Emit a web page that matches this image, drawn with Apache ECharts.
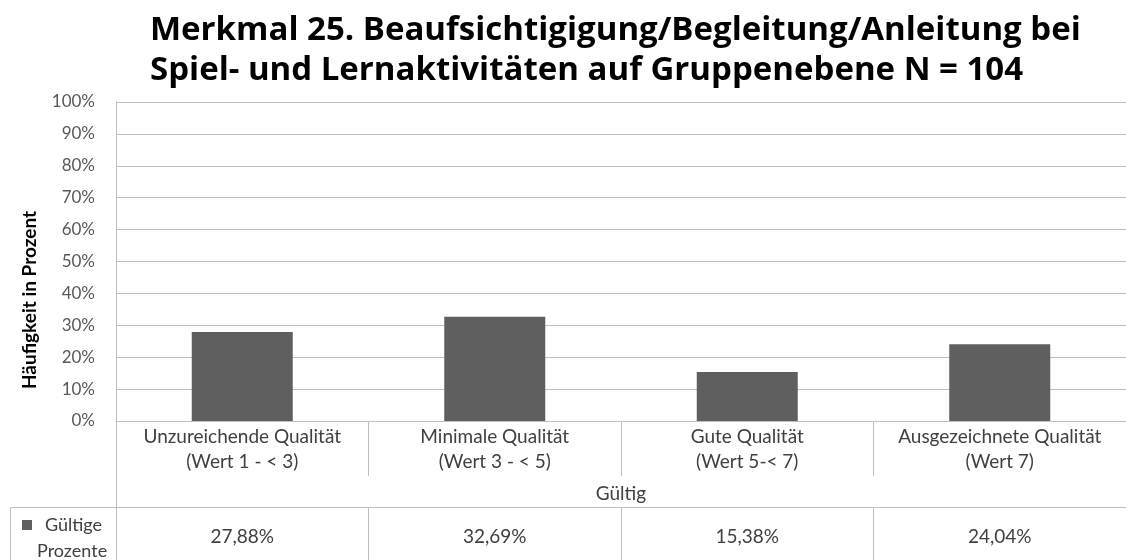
<!DOCTYPE html>
<html><head><meta charset="utf-8">
<script src="https://cdn.jsdelivr.net/npm/echarts@6/dist/echarts.min.js"></script>
<style>html,body{margin:0;padding:0;background:#fff}#c{width:1126px;height:560px}</style>
</head><body><div id="c"></div>
<script>
const titleLines = ['Merkmal 25. Beaufsichtigigung/Begleitung/Anleitung bei', 'Spiel- und Lernaktivitäten auf Gruppenebene N = 104'];
const categories = ['Unzureichende Qualität\n(Wert 1 - < 3)', 'Minimale Qualität\n(Wert 3 - < 5)', 'Gute Qualität\n(Wert 5-< 7)', 'Ausgezeichnete Qualität\n(Wert 7)'];
const values = [27.88, 32.69, 15.38, 24.04];
const valueLabels = ['27,88%', '32,69%', '15,38%', '24,04%'];
const seriesName = 'Gültige Prozente';
const groupName = 'Gültig';
const yAxisName = 'Häufigkeit in Prozent';
const yTicks = {min: 0, max: 100, interval: 10};

const F = 'Lato, "Noto Sans", sans-serif';
const LINE = '#bfbfbf';
const TXT = '#404040';
const L = 116, R = -1;

const chart = echarts.init(document.getElementById('c'));
chart.setOption({
  animation: false,
  textStyle: {fontFamily: F},
  title: {
    text: titleLines.join('\n'), left: 145, top: 6,
    textStyle: {fontFamily: '"Open Sans", Lato, sans-serif', fontWeight: 'bold', fontSize: 33, lineHeight: 40, color: '#000'}
  },
  legend: {
    left: 17, top: 511, itemWidth: 10, itemHeight: 36, itemGap: 0,
    icon: 'path://M0,0L10,0L10,10L0,10Z M0,36L0.01,36L0.01,36.01Z',
    data: [seriesName],
    formatter: () => '{a|Gültige}\n{b|Prozente}',
    textStyle: {fontFamily: F, fontSize: 18, color: TXT,
      rich: {a: {fontSize: 18, lineHeight: 26, color: TXT, padding: [0, 0, 0, 8]}, b: {fontSize: 18, lineHeight: 26, color: TXT}}}
  },
  grid: [
    {left: L, right: R, top: 102, height: 319},
    {left: L, right: R, top: 421, height: 55},
    {left: L, right: R, top: 507, height: 70},
    {left: L, right: R, top: 421, height: 160}
  ],
  xAxis: [
    {gridIndex: 0, type: 'category', data: categories,
      axisLine: {show: true, lineStyle: {color: LINE}}, axisTick: {show: false},
      axisLabel: {margin: 3, fontFamily: F, fontSize: 19, lineHeight: 25, color: TXT, interval: 0}},
    {gridIndex: 1, type: 'category', data: categories,
      axisLine: {show: false}, axisTick: {show: false}, axisLabel: {show: false},
      splitLine: {show: true, lineStyle: {color: LINE}},
      name: groupName, nameLocation: 'middle', nameGap: 8,
      nameTextStyle: {fontFamily: F, fontSize: 19, color: TXT}},
    {gridIndex: 2, type: 'category', data: valueLabels, position: 'top',
      axisLine: {show: true, onZero: false, lineStyle: {color: LINE}}, axisTick: {show: false},
      axisLabel: {inside: true, margin: 20, fontFamily: F, fontSize: 19, color: TXT, interval: 0},
      splitLine: {show: true, lineStyle: {color: LINE}}},
    {gridIndex: 3, type: 'category', data: categories, show: false}
  ],
  yAxis: [
    {gridIndex: 0, type: 'value', min: yTicks.min, max: yTicks.max, interval: yTicks.interval,
      axisLine: {show: true, lineStyle: {color: LINE}}, axisTick: {show: false},
      axisLabel: {formatter: '{value}%', margin: 21, fontFamily: F, fontSize: 17, color: '#595959'},
      splitLine: {show: true, lineStyle: {color: LINE}}},
    {gridIndex: 1, type: 'value', show: false},
    {gridIndex: 2, type: 'value', show: false},
    {gridIndex: 3, type: 'value', axisLine: {show: true, lineStyle: {color: LINE}},
      axisTick: {show: false}, axisLabel: {show: false}, splitLine: {show: false}}
  ],
  series: [{
    name: seriesName, type: 'bar', xAxisIndex: 0, yAxisIndex: 0,
    data: values, barWidth: 101, itemStyle: {color: '#5f5f5f'}
  }],
  graphic: [
    {type: 'rect', shape: {x: 10.5, y: 507.5, width: 106, height: 80}, style: {fill: 'none', stroke: LINE, lineWidth: 1}, silent: true},
    {type: 'text', x: 30, y: 300, rotation: Math.PI / 2,
      style: {text: yAxisName, fontFamily: F, fontWeight: 'bold', fontSize: 19, fill: '#000', align: 'center', verticalAlign: 'middle'}}
  ]
});
</script></body></html>
